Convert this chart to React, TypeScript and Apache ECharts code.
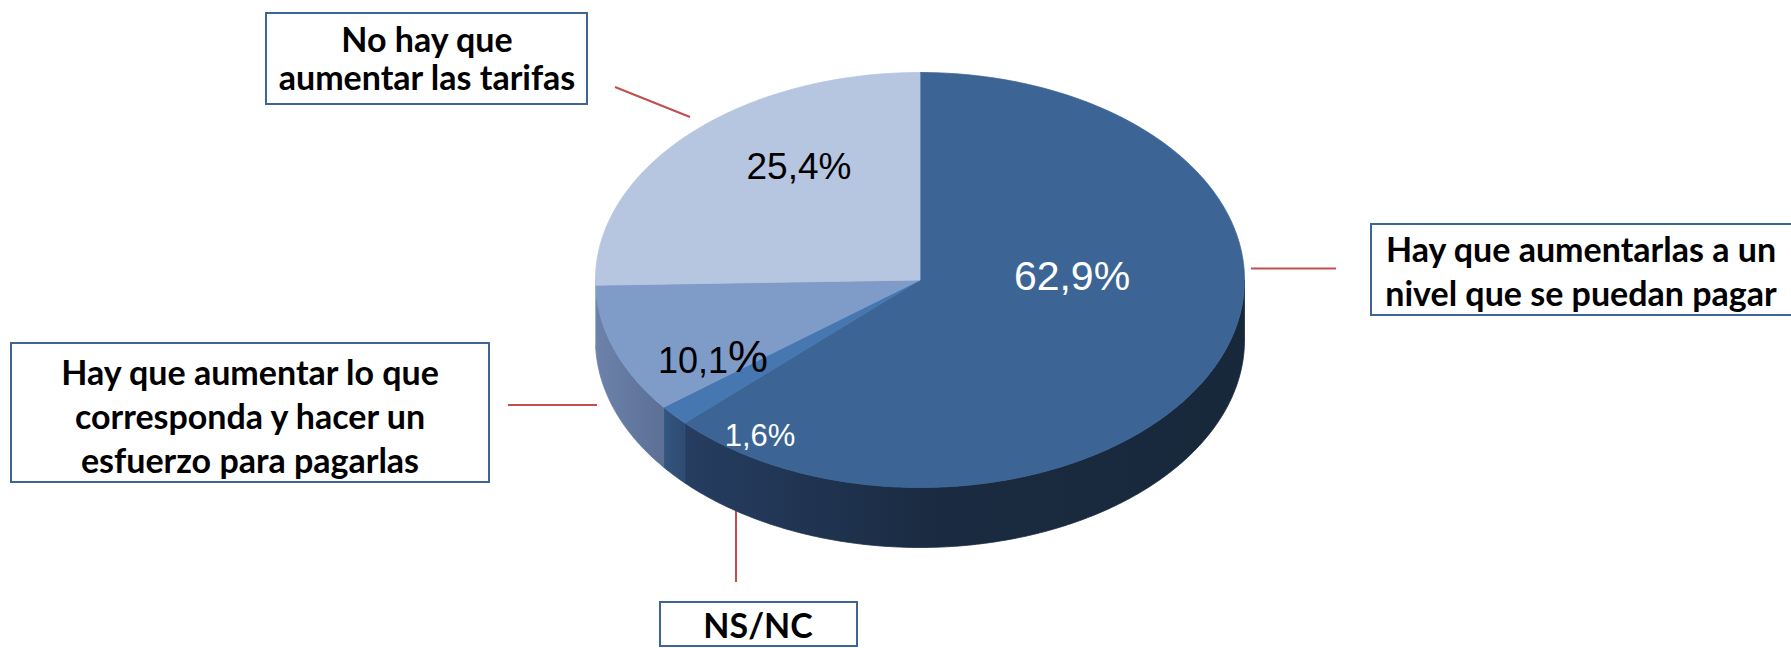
import React, { useEffect, useRef } from "react";
import * as echarts from "echarts";

// ---------- data ----------
const categories = [
  "Hay que aumentarlas a un\nnivel que se puedan pagar",
  "NS/NC",
  "Hay que aumentar lo que\ncorresponda y hacer un\nesfuerzo para pagarlas",
  "No hay que\naumentar las tarifas",
];
const values = [62.9, 1.6, 10.1, 25.4];

// ---------- styles ----------
const topColors = ["#3c6595", "#4677b1", "#7f9cc9", "#b6c5e0"];
const sideStops = [
  [
    [0, "#263d61"],
    [0.45, "#1a2b41"],
    [1, "#18283b"],
  ],
  [
    [0, "#34567f"],
    [1, "#2e4a72"],
  ],
  [
    [0, "#6d82aa"],
    [1, "#5c7096"],
  ],
  [
    [0, "#a3b2cc"],
    [1, "#95a5c2"],
  ],
];
const labelColors = ["#ffffff", "#ffffff", "#000000", "#000000"];

// ---------- layout ----------
const CX = 920;
const CY = 280;
const RX = 324.5;
const RY = 207.5;
const DEPTH = 60;
// inner label positions [x, y, fontSize]
const innerLabelPos = [
  [1072, 276, 41],
  [760, 435, 31],
  [713, 356, 36],
  [799, 166, 37],
];
const boxes = [
  { x: 1371, y: 224, w: 440, h: 91, tx: 1581, ty: 270, lh: 44, line: [1251, 268.5, 1336, 268.5] },
  { x: 660, y: 602, w: 197, h: 44, tx: 758, ty: 624, lh: 40, line: [736, 496, 736, 582] },
  { x: 11, y: 343, w: 478, h: 139, tx: 250, ty: 415, lh: 44, line: [508, 405, 597, 405] },
  { x: 266, y: 13, w: 321, h: 91, tx: 427, ty: 57, lh: 38, line: [615, 87, 690, 117] },
];

const total = values.reduce((a, b) => a + b, 0);
const starts: number[] = [];
{
  let acc = 0;
  values.forEach((v) => {
    starts.push((acc / total) * Math.PI * 2);
    acc += v;
  });
}

function pt(t: number, dy: number): number[] {
  return [CX + RX * Math.sin(t), CY - RY * Math.cos(t) + dy];
}
function arc(a0: number, a1: number, dy: number): number[][] {
  const n = Math.max(2, Math.ceil((a1 - a0) / (Math.PI / 360)));
  const out: number[][] = [];
  for (let k = 0; k <= n; k++) out.push(pt(a0 + ((a1 - a0) * k) / n, dy));
  return out;
}

function fmt(v: number) {
  return v.toFixed(1).replace(".", ",");
}

const renderItem = (params: any, api: any) => {
  const i = params.dataIndex;
  const v = api.value(0) as number;
  const a0 = starts[i];
  const a1 = a0 + (v / total) * Math.PI * 2;
  const children: any[] = [];

  const s0 = Math.max(a0, Math.PI / 2);
  const s1 = Math.min(a1, (Math.PI * 3) / 2);
  if (s1 > s0) {
    const topArc = arc(s0, s1, 0);
    const botArc = arc(s0, s1, DEPTH).reverse();
    const xs = topArc.map((p) => p[0]);
    const minX = Math.min(...xs);
    const maxX = Math.max(...xs);
    const grad = new echarts.graphic.LinearGradient(
      minX,
      0,
      maxX,
      0,
      sideStops[i].map((s) => ({ offset: s[0] as number, color: s[1] as string })),
      true
    );
    children.push({
      type: "polygon",
      shape: { points: topArc.concat(botArc) },
      style: { fill: grad, stroke: grad, lineWidth: 0.8 },
    });
  }

  const topPts = [[CX, CY]].concat(arc(a0, a1, 0));
  children.push({
    type: "polygon",
    shape: { points: topPts },
    style: { fill: topColors[i], stroke: topColors[i], lineWidth: 0.8 },
  });

  const [lx, ly, fs] = innerLabelPos[i];
  const big = i === 2;
  children.push({
    type: "text",
    x: lx,
    y: ly,
    z2: 10,
    style: big
      ? {
          text: "{a|" + fmt(v) + "}{b|%}",
          align: "center",
          verticalAlign: "middle",
          rich: {
            a: { fontSize: fs, fontFamily: "Liberation Sans", fill: labelColors[i], verticalAlign: "bottom" },
            b: { fontSize: 45, fontFamily: "Liberation Sans", fill: labelColors[i], verticalAlign: "bottom" },
          },
        }
      : {
          text: fmt(v) + "%",
          fill: labelColors[i],
          fontSize: fs,
          fontFamily: "Liberation Sans",
          align: "center",
          verticalAlign: "middle",
        },
  });

  return { type: "group", children };
};

export default function App() {
  const ref = useRef<HTMLDivElement>(null);
  useEffect(() => {
    if (!ref.current) return;
    const chart = echarts.init(ref.current, undefined, { renderer: "svg" });
    const graphic: any[] = [];
    boxes.forEach((b, i) => {
      graphic.push({
        type: "line",
        shape: { x1: b.line[0], y1: b.line[1], x2: b.line[2], y2: b.line[3] },
        style: { stroke: "#c0504d", lineWidth: 2 },
      });
      graphic.push({
        type: "rect",
        shape: { x: b.x, y: b.y, width: b.w, height: b.h },
        style: { fill: "#ffffff", stroke: "#3d6598", lineWidth: 2 },
      });
      graphic.push({
        type: "text",
        x: b.tx,
        y: b.ty,
        style: {
          text: categories[i],
          fill: "#000000",
          fontSize: 34,
          fontWeight: "bold",
          fontFamily: "Lato",
          lineHeight: b.lh,
          align: "center",
          verticalAlign: "middle",
        },
      });
    });
    chart.setOption({
      animation: false,
      series: [
        {
          type: "custom",
          coordinateSystem: "none",
          silent: true,
          data: values,
          renderItem,
        },
      ],
      graphic,
    });
    return () => chart.dispose();
  }, []);
  return (
    <div
      ref={ref}
      style={{ position: "absolute", left: 0, top: 0, width: "1791px", height: "648px", background: "#ffffff" }}
    />
  );
}
